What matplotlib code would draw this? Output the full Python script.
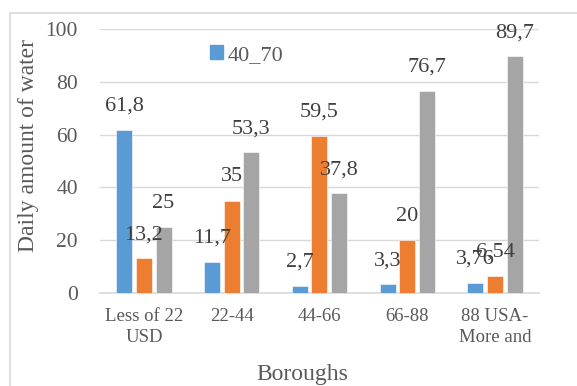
import matplotlib.pyplot as plt
import numpy as np
from matplotlib.patches import Patch, Rectangle

# categories and the three series
categories = ['Less of 22\nUSD', '22-44', '44-66', '66-88', '88 USA-\nMore and']
blue_vals = [61.8, 11.7, 2.7, 3.3, 3.76]
orange_vals = [13.2, 35, 59.5, 20, 6.54]
gray_vals = [25, 53.3, 37.8, 76.7, 89.7]
yticks = [0, 20, 40, 60, 80, 100]

plt.rcParams['font.family'] = ['Liberation Serif', 'DejaVu Serif']

fig = plt.figure(figsize=(5.77, 3.86), dpi=100)
ax = fig.add_axes([0.1733, 0.2409, 0.934 - 0.1733, 0.9249 - 0.2409])

x = np.arange(len(categories))
w = 0.182
step = 0.224
series = [(blue_vals, '#5B9BD5', '40_70'),
          (orange_vals, '#ED7D31', '_nolegend_'),
          (gray_vals, '#A5A5A5', '_nolegend_')]

for i, (vals, col, lab) in enumerate(series):
    pos = x + (i - 1) * step
    ax.bar(pos, vals, width=w, color=col, edgecolor='white', linewidth=0.4,
           label=lab, zorder=3)
    for px, v in zip(pos, vals):
        ax.annotate(f'{v:g}'.replace('.', ','), (px, v), xytext=(0, 17),
                    textcoords='offset points', ha='center', va='center',
                    fontsize=16, color='#404040', zorder=4)

ax.set_xlim(-0.5, len(categories) - 0.5)
ax.set_ylim(0, 100)
ax.set_yticks(yticks)
ax.set_xticks(x)
ax.set_xticklabels(categories, fontsize=13.5, color='#595959', linespacing=1.3)
ax.tick_params(axis='y', length=0, pad=16, labelsize=15.5, labelcolor='#595959')
ax.tick_params(axis='x', length=0, pad=11)
ax.grid(axis='y', color='#d9d9d9', linewidth=1, zorder=0)
for s in ['left', 'right', 'top']:
    ax.spines[s].set_visible(False)
ax.spines['bottom'].set_color('#d9d9d9')
ax.spines['bottom'].set_linewidth(1.2)

ax.set_ylabel('Daily amount of water', fontsize=17, color='#595959')
ax.yaxis.label.set_verticalalignment('center')
ax.yaxis.set_label_coords(-0.164, 0.557)
ax.set_xlabel('Boroughs', fontsize=17, color='#595959')
ax.xaxis.label.set_verticalalignment('center')
ax.xaxis.set_label_coords(0.462, -0.31)

ax.legend(handles=[Patch(color='#5B9BD5')], labels=['40_70'],
          loc='center left', bbox_to_anchor=(0.364, 0.8575),
          bbox_transform=fig.transFigure, frameon=False, fontsize=16,
          handlelength=0.6, handleheight=0.6, handletextpad=0.2,
          borderpad=0, borderaxespad=0, labelcolor='#595959')

# chart area border
fig.add_artist(Rectangle((9.5 / 577, -0.2), 1.2, 0.2 + 1 - 13 / 386,
                         transform=fig.transFigure, fill=False,
                         edgecolor='#d9d9d9', linewidth=1.2, clip_on=False))

fig.savefig('out.png', dpi=100)
